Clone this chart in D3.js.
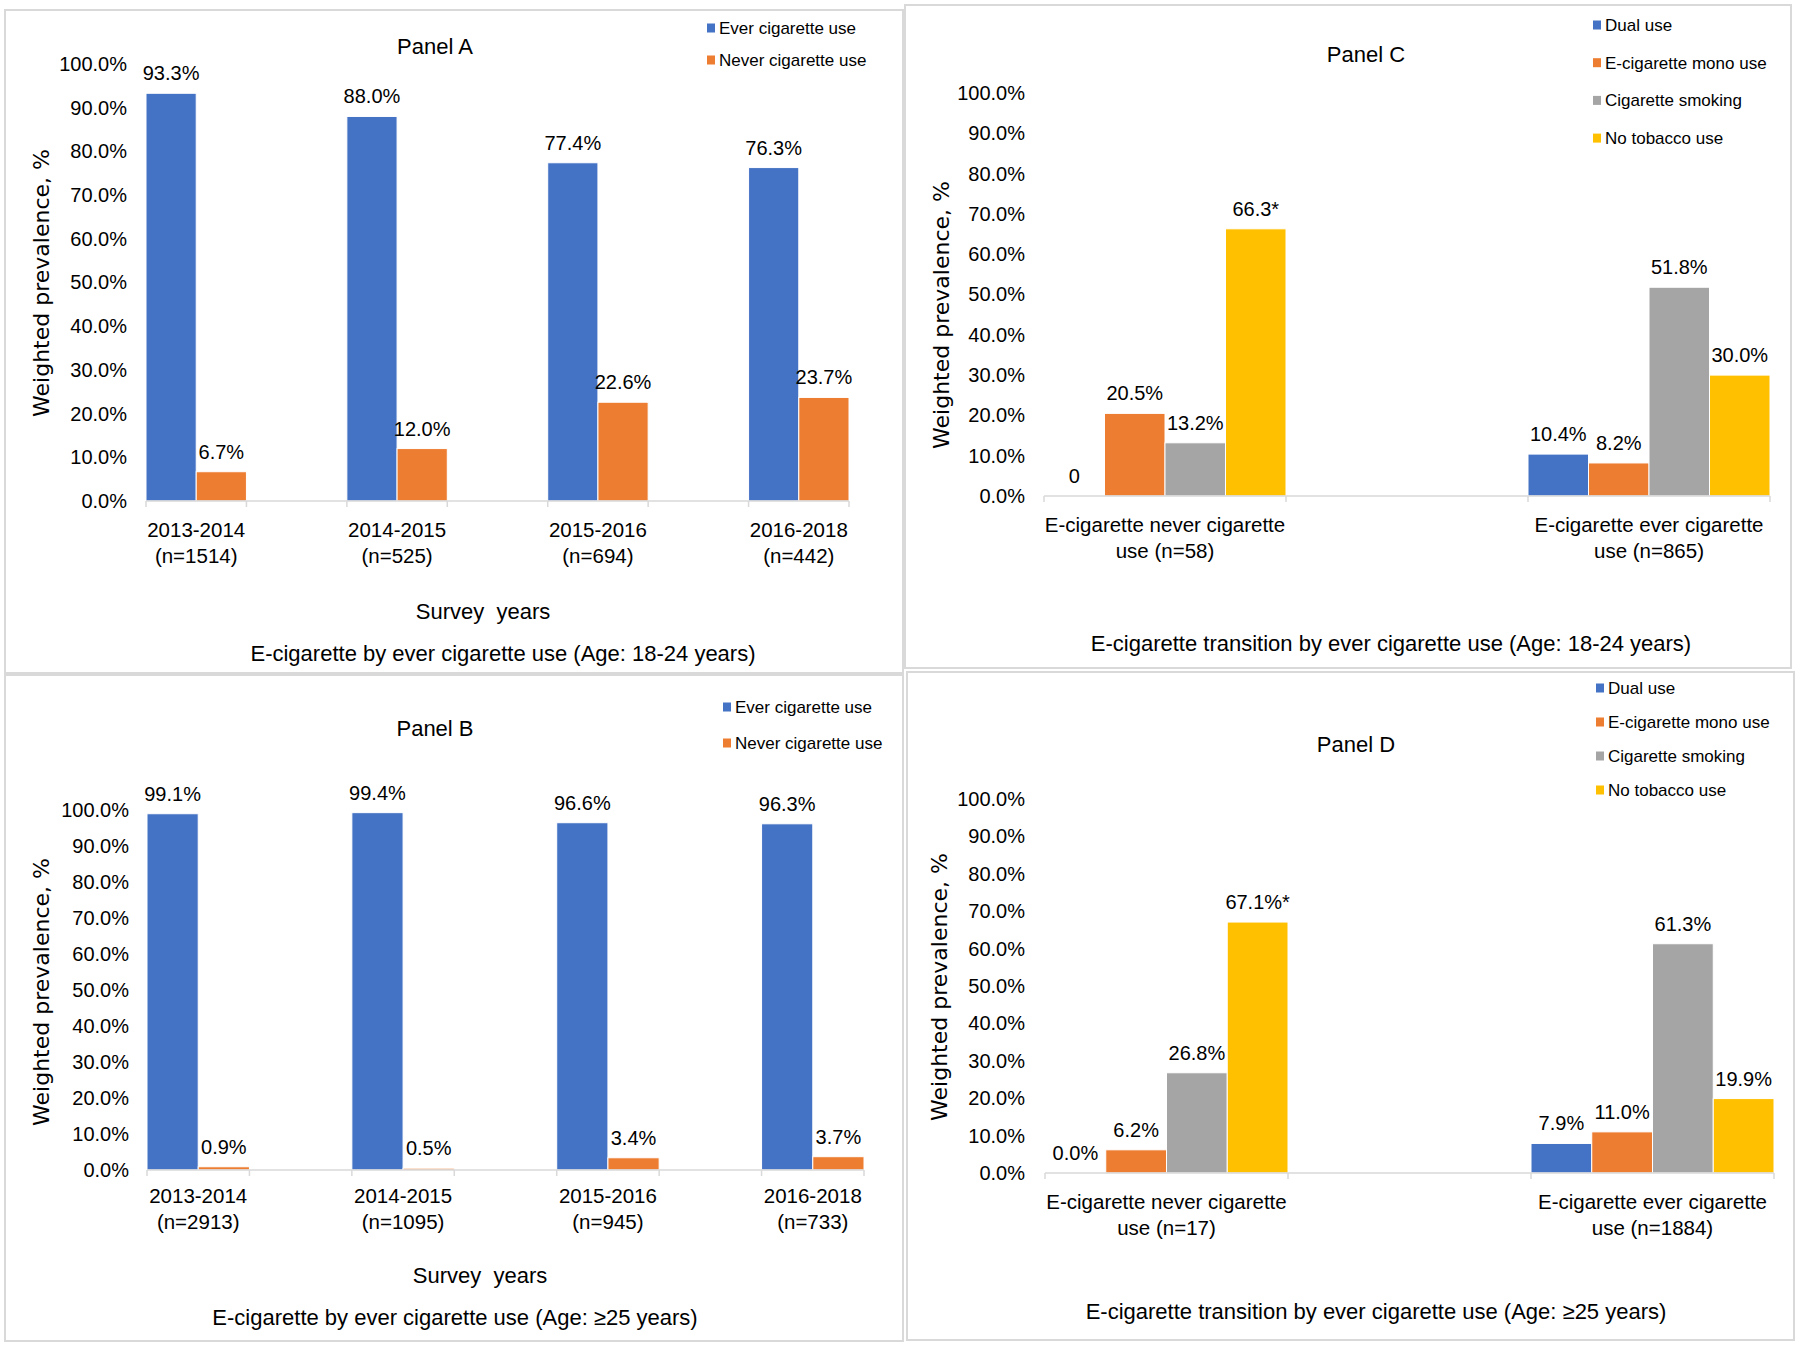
<!DOCTYPE html>
<html>
<head>
<meta charset="utf-8">
<script src="https://cdn.jsdelivr.net/npm/d3@7"></script>
<style>
  body { margin: 0; background: #fff; }
  svg { display: block; }
</style>
</head>
<body>
<svg id="chart" width="1800" height="1347"></svg>
<script>
// ---- data ----
const yearsA = ["2013-2014", "2014-2015", "2015-2016", "2016-2018"];
const sampleA = ["(n=1514)", "(n=525)", "(n=694)", "(n=442)"];
const everA = [93.3, 88.0, 77.4, 76.3];
const neverA = [6.7, 12.0, 22.6, 23.7];

const yearsB = ["2013-2014", "2014-2015", "2015-2016", "2016-2018"];
const sampleB = ["(n=2913)", "(n=1095)", "(n=945)", "(n=733)"];
const everB = [99.1, 99.4, 96.6, 96.3];
const neverB = [0.9, 0.5, 3.4, 3.7];

const groupsCD = ["E-cigarette never cigarette", "E-cigarette ever cigarette"];
const sampleC = ["use (n=58)", "use (n=865)"];
const dualC = [0, 10.4];
const monoC = [20.5, 8.2];
const smokingC = [13.2, 51.8];
const noTobaccoC = [66.3, 30.0];
const labelFixC = { "0-Dual use": "0", "0-No tobacco use": "66.3*" };

const sampleD = ["use (n=17)", "use (n=1884)"];
const dualD = [0.0, 7.9];
const monoD = [6.2, 11.0];
const smokingD = [26.8, 61.3];
const noTobaccoD = [67.1, 19.9];
const labelFixD = { "0-No tobacco use": "67.1%*" };

const yTicks = [0, 10, 20, 30, 40, 50, 60, 70, 80, 90, 100];

const colors = {
  "Ever cigarette use": "#4472C4",
  "Never cigarette use": "#ED7D31",
  "Dual use": "#4472C4",
  "E-cigarette mono use": "#ED7D31",
  "Cigarette smoking": "#A5A5A5",
  "No tobacco use": "#FFC000"
};

const FONT = "'Liberation Sans', Arial, sans-serif";
const svg = d3.select("#chart");

function drawPanel(cfg) {
  const g = svg.append("g");

  // panel frame
  g.append("rect")
    .attr("x", cfg.box[0]).attr("y", cfg.box[1])
    .attr("width", cfg.box[2] - cfg.box[0])
    .attr("height", cfg.box[3] - cfg.box[1])
    .attr("fill", "none")
    .attr("stroke", "#d9d9d9")
    .attr("stroke-width", 2);

  const x0 = d3.scaleBand()
    .domain(d3.range(cfg.line1.length))
    .range([cfg.xLeft, cfg.xRight])
    .paddingInner(0.5)
    .paddingOuter(0)
    .align(0);
  const x1 = d3.scaleBand()
    .domain(cfg.series.map(s => s.name))
    .range([0, x0.bandwidth()]);
  const y = d3.scaleLinear().domain([0, 100]).range([cfg.yBottom, cfg.yTop]);

  // y axis labels
  g.append("g")
    .attr("transform", `translate(${cfg.tickRight},0)`)
    .call(d3.axisLeft(y).tickValues(yTicks).tickSize(0).tickPadding(0)
      .tickFormat(d => d.toFixed(1) + "%"))
    .call(a => a.select(".domain").remove())
    .attr("font-family", FONT)
    .attr("font-size", 20)
    .selectAll("text").attr("fill", "#000");

  // bars
  cfg.series.forEach(s => {
    g.append("g").selectAll("rect")
      .data(s.values)
      .join("rect")
      .attr("x", (d, i) => x0(i) + x1(s.name))
      .attr("width", x1.bandwidth())
      .attr("y", d => y(d))
      .attr("height", d => cfg.yBottom - y(d))
      .attr("fill", colors[s.name])
      .attr("stroke", "#fff")
      .attr("stroke-width", 1);

    g.append("g").selectAll("text")
      .data(s.values)
      .join("text")
      .attr("x", (d, i) => x0(i) + x1(s.name) + x1.bandwidth() / 2)
      .attr("y", d => y(d) - 13)
      .attr("text-anchor", "middle")
      .attr("font-family", FONT)
      .attr("font-size", 20)
      .text((d, i) => (cfg.labelFix && cfg.labelFix[i + "-" + s.name]) || d.toFixed(1) + "%");
  });

  // x axis line and ticks at group edges
  g.append("line")
    .attr("x1", cfg.xLeft).attr("x2", cfg.xRight)
    .attr("y1", cfg.yBottom).attr("y2", cfg.yBottom)
    .attr("stroke", "#d9d9d9").attr("stroke-width", 1.5);
  const edges = [];
  x0.domain().forEach(i => { edges.push(x0(i)); edges.push(x0(i) + x0.bandwidth()); });
  g.append("g").selectAll("line")
    .data(edges)
    .join("line")
    .attr("x1", d => d).attr("x2", d => d)
    .attr("y1", cfg.yBottom).attr("y2", cfg.yBottom + 6)
    .attr("stroke", "#d9d9d9").attr("stroke-width", 1.5);

  // category labels
  const cat = g.append("g").selectAll("text")
    .data(x0.domain())
    .join("text")
    .attr("text-anchor", "middle")
    .attr("font-family", FONT)
    .attr("font-size", 20.5);
  cat.append("tspan")
    .attr("x", i => x0(i) + x0.bandwidth() / 2)
    .attr("y", cfg.yBottom + cfg.catDy)
    .text(i => cfg.line1[i]);
  cat.append("tspan")
    .attr("x", i => x0(i) + x0.bandwidth() / 2)
    .attr("y", cfg.yBottom + cfg.catDy + 26)
    .text(i => cfg.line2[i]);

  // titles
  g.append("text")
    .attr("x", cfg.title[0]).attr("y", cfg.title[1])
    .attr("text-anchor", "middle")
    .attr("font-family", FONT).attr("font-size", 22)
    .text(cfg.titleText);

  g.append("text")
    .attr("transform", `translate(${cfg.yTitle[0]},${cfg.yTitle[1]}) rotate(-90)`)
    .attr("text-anchor", "middle")
    .attr("dy", "0.35em")
    .attr("font-family", "'DejaVu Sans', Verdana, sans-serif")
    .attr("font-size", 22)
    .text("Weighted prevalence, %");

  if (cfg.xTitle) {
    g.append("text")
      .attr("x", cfg.xTitle[0]).attr("y", cfg.xTitle[1])
      .attr("text-anchor", "middle")
      .attr("font-family", FONT).attr("font-size", 22)
      .style("white-space", "pre")
      .text("Survey  years");
  }

  g.append("text")
    .attr("x", cfg.sub[0]).attr("y", cfg.sub[1])
    .attr("text-anchor", "middle")
    .attr("font-family", FONT).attr("font-size", 22)
    .text(cfg.subText);

  // legend
  const leg = g.append("g").selectAll("g")
    .data(cfg.series)
    .join("g")
    .attr("transform", (d, i) => `translate(${cfg.legend[0]},${cfg.legend[1] + i * cfg.legendStep})`);
  leg.append("rect")
    .attr("x", 0).attr("y", -4.5)
    .attr("width", 8).attr("height", 9)
    .attr("fill", d => colors[d.name]);
  leg.append("text")
    .attr("x", 12).attr("y", 0)
    .attr("dy", "0.35em")
    .attr("font-family", FONT).attr("font-size", 17)
    .text(d => d.name);
}

drawPanel({
  box: [5, 10, 903, 673],
  xLeft: 146, xRight: 849, yBottom: 501, yTop: 64, tickRight: 127,
  line1: yearsA, line2: sampleA, catDy: 36,
  series: [{ name: "Ever cigarette use", values: everA }, { name: "Never cigarette use", values: neverA }],
  titleText: "Panel A", title: [435, 54],
  yTitle: [41, 283],
  xTitle: [483, 619],
  subText: "E-cigarette by ever cigarette use (Age: 18-24 years)", sub: [503, 661],
  legend: [707, 28], legendStep: 32
});

drawPanel({
  box: [5, 675, 903, 1341],
  xLeft: 147, xRight: 864, yBottom: 1170, yTop: 810.5, tickRight: 129,
  line1: yearsB, line2: sampleB, catDy: 33,
  series: [{ name: "Ever cigarette use", values: everB }, { name: "Never cigarette use", values: neverB }],
  titleText: "Panel B", title: [435, 736],
  yTitle: [41, 992],
  xTitle: [480, 1283],
  subText: "E-cigarette by ever cigarette use (Age: \u226525 years)", sub: [455, 1325],
  legend: [723, 707], legendStep: 36
});

drawPanel({
  box: [905, 5, 1791, 668],
  xLeft: 1044, xRight: 1770, yBottom: 496, yTop: 93, tickRight: 1025,
  line1: groupsCD, line2: sampleC, catDy: 36,
  series: [
    { name: "Dual use", values: dualC },
    { name: "E-cigarette mono use", values: monoC },
    { name: "Cigarette smoking", values: smokingC },
    { name: "No tobacco use", values: noTobaccoC }
  ],
  labelFix: labelFixC,
  titleText: "Panel C", title: [1366, 62],
  yTitle: [941, 315],
  subText: "E-cigarette transition by ever cigarette use (Age: 18-24 years)", sub: [1391, 651],
  legend: [1593, 25], legendStep: 37.7
});

drawPanel({
  box: [907, 672, 1794, 1340],
  xLeft: 1045, xRight: 1774, yBottom: 1173, yTop: 799, tickRight: 1025,
  line1: groupsCD, line2: sampleD, catDy: 36,
  series: [
    { name: "Dual use", values: dualD },
    { name: "E-cigarette mono use", values: monoD },
    { name: "Cigarette smoking", values: smokingD },
    { name: "No tobacco use", values: noTobaccoD }
  ],
  labelFix: labelFixD,
  titleText: "Panel D", title: [1356, 752],
  yTitle: [939, 987],
  subText: "E-cigarette transition by ever cigarette use (Age: \u226525 years)", sub: [1376, 1319],
  legend: [1596, 688], legendStep: 34
});
</script>
</body>
</html>
